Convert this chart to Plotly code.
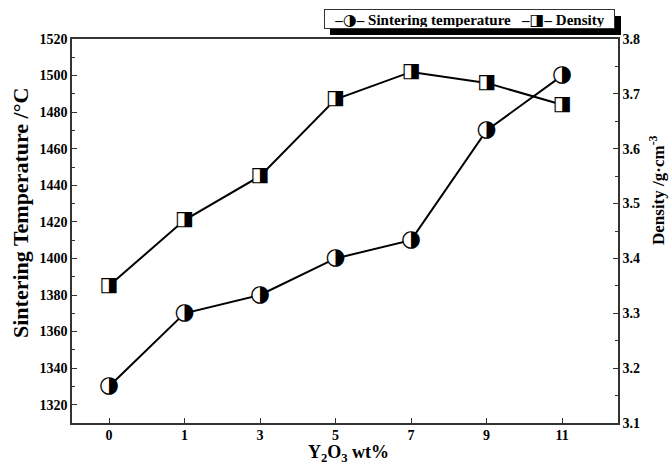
import plotly.graph_objects as go

categories = ["0", "1", "3", "5", "7", "9", "11"]
sintering_temp = [1330, 1370, 1380, 1400, 1410, 1470, 1500]
density = [3.35, 3.47, 3.55, 3.69, 3.74, 3.72, 3.68]

SERIF = "Liberation Serif"
L, R, T, B = 72, 52, 39, 41
W, H = 670, 464
pw, ph = W - L - R, H - T - B

def px2x(px):
    return (px - L) / pw

def py2y(py):
    return (H - B - py) / ph

fig = go.Figure()

fig.add_trace(go.Scatter(
    x=categories, y=sintering_temp, mode="lines+markers+text",
    line=dict(color="black", width=2),
    marker=dict(symbol="circle", size=16, color="white", line=dict(width=0)),
    text=["◑"] * len(categories), textposition="middle center",
    textfont=dict(family="DejaVu Sans", size=23, color="black"),
    name="Sintering temperature", showlegend=False, cliponaxis=False,
))
fig.add_trace(go.Scatter(
    x=categories, y=density, mode="lines+markers+text", yaxis="y2",
    line=dict(color="black", width=2),
    marker=dict(symbol="square", size=14, color="white", line=dict(width=0)),
    text=["◨"] * len(categories), textposition="middle center",
    textfont=dict(family="DejaVu Sans", size=20, color="black"),
    name="Density", showlegend=False, cliponaxis=False,
))

axis_line = dict(showline=True, linecolor="#333", linewidth=1.5, showgrid=False, zeroline=False)
tickfont = dict(family=SERIF, size=14, color="black", weight="bold")

fig.update_layout(
    width=W, height=H,
    margin=dict(l=L, r=R, t=T, b=B),
    paper_bgcolor="white", plot_bgcolor="white",
    showlegend=False,
    xaxis=dict(type="category", range=[-0.49, 6.74], ticks="inside", ticklen=5,
               tickcolor="#333", mirror=True, tickfont=tickfont, ticklabelstandoff=-2,
               **axis_line),
    yaxis=dict(range=[1310, 1520], dtick=20, tick0=1320, ticks="inside", ticklen=5,
               tickcolor="#333", tickfont=tickfont,
               minor=dict(dtick=10, ticks="inside", ticklen=3, tickcolor="#333"),
               **axis_line),
    yaxis2=dict(range=[3.1, 3.8], dtick=0.1, tick0=3.1, ticks="inside", ticklen=5,
                tickcolor="#333", overlaying="y", side="right", tickfont=tickfont,
                tickformat=".1f",
                minor=dict(dtick=0.05, ticks="inside", ticklen=3, tickcolor="#333"),
                **axis_line),
)

# Axis titles
fig.add_annotation(text="<b>Sintering Temperature /°C</b>", xref="paper", yref="paper",
                   x=px2x(20), y=py2y(213), textangle=-90, showarrow=False,
                   xanchor="center", yanchor="middle",
                   font=dict(family=SERIF, size=22, color="black"))
fig.add_annotation(text="<b>Density /g·cm<sup>-3</sup></b>", xref="paper", yref="paper",
                   x=px2x(657), y=py2y(190), textangle=-90, showarrow=False,
                   xanchor="center", yanchor="middle",
                   font=dict(family=SERIF, size=17, color="black"))
fig.add_annotation(text="<b>Y<sub>2</sub>O<sub>3</sub> wt%</b>", xref="paper", yref="paper",
                   x=px2x(348), y=py2y(453), showarrow=False,
                   xanchor="center", yanchor="middle",
                   font=dict(family=SERIF, size=18, color="black"))

# Legend box with drop shadow
fig.add_shape(type="rect", xref="paper", yref="paper",
              x0=px2x(330), x1=px2x(621), y0=py2y(35), y1=py2y(16),
              fillcolor="black", line=dict(width=0), layer="above")
glyph = '<span style="font-family:DejaVu Sans;font-size:16px">{}</span>'
fig.add_annotation(
    text="<b>–" + glyph.format("◑") + "– Sintering temperature   –" + glyph.format("◨") + "– Density</b>",
    xref="paper", yref="paper", x=px2x(469.5), y=py2y(19),
    xanchor="center", yanchor="middle", showarrow=False,
    width=287, height=16, align="center",
    font=dict(family=SERIF, size=15, color="black"),
    bgcolor="white", bordercolor="#333", borderwidth=1, borderpad=1,
)

fig.write_html("out.html", config={"displayModeBar": False},
               post_script="document.body.style.margin='0';document.body.style.padding='0';")
